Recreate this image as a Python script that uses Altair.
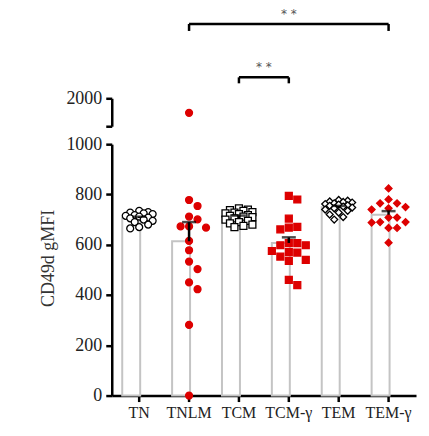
import altair as alt
import pandas as pd
import numpy as np

categories = ["TN", "TNLM", "TCM", "TCM-γ", "TEM", "TEM-γ"]
tn = [735, 730, 728, 725, 722, 718, 715, 712, 708, 705, 700, 695, 690, 680, 670, 665]
tnlm = [1480, 778, 754, 712, 701, 673, 673, 668, 615, 578, 533, 503, 450, 423, 281, 0]
tcm = [745, 740, 738, 735, 730, 728, 725, 722, 718, 715, 712, 710, 705, 700, 695, 690, 685, 680, 675, 670]
tcm_g = [794, 780, 704, 671, 668, 661, 606, 606, 598, 598, 575, 571, 569, 553, 540, 536, 460, 439]
tem = [778, 775, 772, 770, 768, 765, 762, 760, 757, 755, 752, 748, 745, 740, 735, 728, 720, 710, 700]
tem_g = [824, 780, 765, 765, 750, 745, 740, 708, 708, 690, 690, 688, 667, 667, 608]
groups = [tn, tnlm, tcm, tcm_g, tem, tem_g]

bracket_from = ["TNLM", "TCM"]
bracket_to = ["TEM-γ", "TCM-γ"]
bracket_text = ["* *", "* *"]

LOW_MAX = 1000
HIGH_MAX = 2000

# layout
W = 305
H_LOW = 252
H_HIGH = 28
PI, PO = 0.32, 0.21
STEP = W / (len(categories) - PI + 2 * PO)
BAND = STEP * (1 - PI)
RED = "#dd0000"


def swarm(vals, ppu, diam, step, maxoff):
    placed, offs = [], []
    cands = [0.0]
    i = 1
    while i * step <= maxoff:
        cands += [i * step, -i * step]
        i += 1
    for v in vals:
        y = v * ppu
        best, bestd = None, -1
        for c in cands:
            d = min([np.hypot(c - px, y - py) for px, py in placed] or [1e9])
            if d >= diam:
                best = c
                break
            if d > bestd:
                bestd, best = d, c
        placed.append((best, y))
        offs.append(best)
    return offs


rows = []
for cat, vals in zip(categories, groups):
    red = cat in ("TNLM", "TCM-γ", "TEM-γ")
    low = sorted([v for v in vals if v <= LOW_MAX], reverse=True)
    high = [v for v in vals if v > LOW_MAX]
    if red:
        offs = swarm(low, H_LOW / LOW_MAX, 8.5, 8.5, 17.5)
    else:
        offs = swarm(low, H_LOW / LOW_MAX, 5.5, 4.5, 16)
    for v, o in zip(low, offs):
        rows.append({"cat": cat, "value": v, "off": o, "panel": "low"})
    for v in high:
        rows.append({"cat": cat, "value": v, "off": 0.0, "panel": "high"})
pts_df = pd.DataFrame(rows)

stats = pd.DataFrame({
    "cat": categories,
    "mean": [float(np.mean(g)) for g in groups],
    "sem": [float(np.std(g, ddof=1) / np.sqrt(len(g))) for g in groups],
})
stats["top"] = stats["mean"] + stats["sem"]

bdf = pd.DataFrame({
    "c1": bracket_from, "c2": bracket_to, "label": bracket_text,
    "py": [-74.5, -21.0], "leg": [-67.5, -15.0], "ty": [-84.0, -31.0],
})
bdf["mid"] = [
    (categories.index(b) - categories.index(a)) / 2 * STEP for a, b in zip(bracket_from, bracket_to)
]
legs = pd.DataFrame({
    "c": list(bdf["c1"]) + list(bdf["c2"]),
    "py": list(bdf["py"]) * 2,
    "leg": list(bdf["leg"]) * 2,
})

x_scale = alt.Scale(domain=categories, paddingInner=PI, paddingOuter=PO)
off_scale = alt.Scale(domain=[-BAND / 2, BAND / 2], range=[0, BAND])
shape_scale = alt.Scale(domain=categories, range=["circle", "circle", "square", "square", "diamond", "diamond"])
fill_scale = alt.Scale(domain=categories, range=["white", RED, "white", RED, "white", RED])
stroke_scale = alt.Scale(domain=categories, range=["black", RED, "black", RED, "black", RED])

font = "Liberation Serif"
x_axis = alt.Axis(title=None, labelFont=font, labelFontSize=16, labelColor="#222",
                  labelAngle=0, tickSize=6, labelPadding=3, domainWidth=2.5, tickWidth=2.5,
                  domainColor="black", tickColor="black")


def point_layer(df, yscale, yaxis, xaxis):
    return alt.Chart(df).mark_point(size=48, strokeWidth=1.3, opacity=1, fillOpacity=1).encode(
        x=alt.X("cat:N", scale=x_scale, axis=xaxis),
        xOffset=alt.XOffset("off:Q", scale=off_scale),
        y=alt.Y("value:Q", scale=yscale, axis=yaxis),
        shape=alt.Shape("cat:N", scale=shape_scale, legend=None),
        fill=alt.Fill("cat:N", scale=fill_scale, legend=None),
        stroke=alt.Stroke("cat:N", scale=stroke_scale, legend=None),
    )


y_low = alt.Scale(domain=[0, LOW_MAX], nice=False)
y_low_axis = alt.Axis(title="CD49d gMFI", values=list(range(0, 1001, 200)), grid=False, format="d",
                      labelFont=font, labelFontSize=18, labelColor="#222", tickSize=6,
                      labelPadding=4, domainWidth=2.5, tickWidth=2.5, domainColor="black",
                      tickColor="black", titleFont=font, titleFontSize=18, titleFontWeight="normal",
                      titleColor="#333", titlePadding=8, titleY=114)

bars = alt.Chart(stats).mark_bar(fill="white", stroke="#c4c4c4", strokeWidth=2).encode(
    x=alt.X("cat:N", scale=x_scale, axis=x_axis),
    y=alt.Y("mean:Q", scale=y_low, axis=y_low_axis),
)
low_pts = point_layer(pts_df[pts_df.panel == "low"], y_low, y_low_axis, x_axis)
err = alt.Chart(stats).mark_rule(strokeWidth=2.5, color="black").encode(
    x=alt.X("cat:N", scale=x_scale, axis=x_axis), y=alt.Y("mean:Q", scale=y_low, axis=y_low_axis), y2="top:Q")
cap = alt.Chart(stats).mark_tick(thickness=2.5, size=14, color="black").encode(
    x=alt.X("cat:N", scale=x_scale, axis=x_axis), y=alt.Y("top:Q", scale=y_low, axis=y_low_axis))
lower = alt.layer(bars, low_pts, err, cap).properties(width=W, height=H_LOW)

y_high = alt.Scale(domain=[LOW_MAX, HIGH_MAX], nice=False)
y_high_axis = alt.Axis(title=None, values=[LOW_MAX, HIGH_MAX], grid=False, format="d",
                       labelExpr=f"datum.value == {HIGH_MAX} ? '{HIGH_MAX}' : ''",
                       labelFont=font, labelFontSize=18, labelColor="#222", tickSize=6,
                       labelPadding=4, domainWidth=2.5, tickWidth=2.5, domainColor="black",
                       tickColor="black")
high_pts = point_layer(pts_df[pts_df.panel == "high"], y_high, y_high_axis, None)
hline = alt.Chart(bdf).mark_rule(strokeWidth=2.5, color="black").encode(
    x=alt.X("c1:N", scale=x_scale, axis=None), x2="c2:N", y=alt.Y("py:Q", scale=None))
vlegs = alt.Chart(legs).mark_rule(strokeWidth=2.5, color="black").encode(
    x=alt.X("c:N", scale=x_scale, axis=None), y=alt.Y("py:Q", scale=None), y2="leg:Q")
stars = alt.Chart(bdf).mark_text(fontSize=12, color="#555", font="DejaVu Sans", baseline="middle").encode(
    x=alt.X("c1:N", scale=x_scale, axis=None), xOffset=alt.XOffset("mid:Q", scale=off_scale),
    y=alt.Y("ty:Q", scale=None), text="label:N")
upper = alt.layer(high_pts, hline, vlegs, stars).properties(width=W, height=H_HIGH)

chart = alt.vconcat(upper, lower, spacing=18, bounds="flush").configure_view(stroke=None).properties(
    padding={"left": 32, "top": 0, "right": 5, "bottom": 5})

chart.save("out.html", embed_options={"renderer": "svg", "actions": False})
